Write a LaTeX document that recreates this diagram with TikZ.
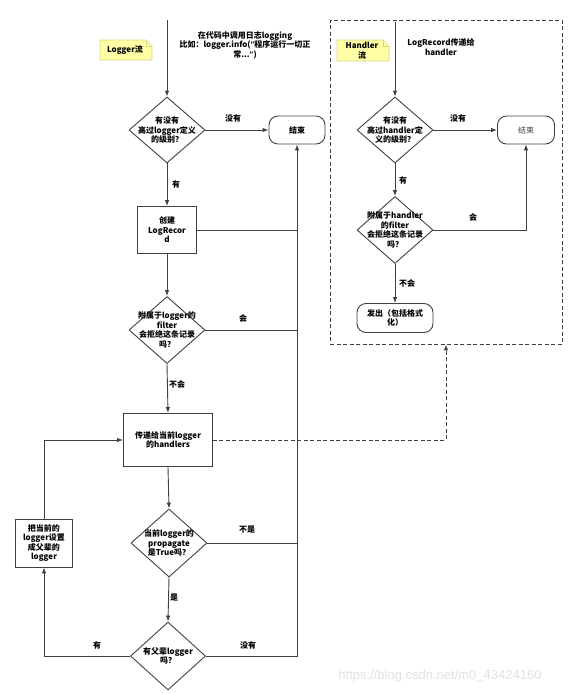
\documentclass[tikz,border=0pt]{standalone}
\usepackage{fontspec}
\setmainfont{Noto Sans CJK SC}
\newfontfamily\wmfont{Liberation Sans}
\usetikzlibrary{shapes.geometric,arrows.meta,calc}
\definecolor{ln}{HTML}{404040}
\definecolor{notefill}{HTML}{FFFFA6}
\definecolor{notedraw}{HTML}{D6D68A}
\tikzset{
  every node/.style={font=\fontsize{8}{9.5}\selectfont\bfseries, text=black},
  diam/.style={draw=ln, line width=0.9pt, diamond, inner sep=0pt},
  txt/.style={align=center, inner sep=0pt},
  term/.style={draw=ln, line width=0.9pt, rectangle, rounded corners=9pt, align=center},
  procbox/.style={draw=ln, line width=0.9pt, rectangle, align=center},
  con/.style={draw=ln, line width=0.9pt},
  arr/.style={con, -{Latex[length=6pt,width=4.5pt]}},
  lbl/.style={inner sep=0pt},
  notetxt/.style={align=center, inner sep=0pt, font=\fontsize{8}{9.5}\selectfont\bfseries}
}
\begin{document}
\begin{tikzpicture}[x=1pt,y=-1pt]
\useasboundingbox (0,0) rectangle (573,694);
% ---------- Logger flow ----------
\coordinate (top1) at (167,20);
\node[txt] (intro) at (245,45) {在代码中调用日志logging\\比如：logger.info({\wmfont\bfseries "}程序运行一切正\\常...{\wmfont\bfseries "})};
\node[diam, minimum width=76pt, minimum height=66pt] (d1) at (167,130) {};
\node[txt] (t1) at (d1) {有没有\\高过logger定义\\的级别？};
\node[term, minimum width=56pt, minimum height=28pt] (e1) at (297,130) {结束};
\node[procbox, minimum width=59pt, minimum height=47pt] (c1) at (167,230) {};
\node[txt] (tc1) at (c1) {创建\\LogRecor\\d};
\node[diam, minimum width=76pt, minimum height=67pt] (d2) at (167,330) {};
\node[txt] (t2) at (d2) {附属于logger的\\filter\\会拒绝这条记录\\吗？};
\node[procbox, minimum width=89pt, minimum height=53pt] (b2) at (168,440) {};
\node[txt] (tb2) at (b2) {传递给当前logger\\的handlers};
\node[diam, minimum width=76pt, minimum height=68pt] (d3) at (169,543) {};
\node[txt] (t3) at (d3) {当前logger的\\propagate\\是True吗？};
\node[diam, minimum width=75pt, minimum height=68pt] (d4) at (168,656) {};
\node[txt] (t4) at (d4) {有父辈logger\\吗？};
\node[procbox, minimum width=57pt, minimum height=48pt] (p1) at (44,543) {};
\node[txt] (tp1) at (p1) {把当前的\\logger设置\\成父辈的\\logger};
% note Logger
\fill[notefill] (100,40) -- (146,40) -- (152,46) -- (152,60) -- (100,60) -- cycle;
\draw[notedraw, line width=0.6pt] (100,40) -- (146,40) -- (152,46) -- (152,60) -- (100,60) -- cycle;
\draw[notedraw, line width=0.6pt] (146,40) -- (146,46) -- (152,46);
\node[notetxt] (n1) at (125,50) {Logger流};
% connectors
\draw[arr] (top1) -- (d1.north);
\draw[arr] (d1.east) -- (e1.west);
\node[lbl] (l1) at (233,118) {没有};
\draw[arr] (d1.south) -- (c1.north);
\node[lbl] (l2) at (176,184) {有};
\draw[con] (c1.east) -- (297,230);
\draw[arr] (c1.south) -- (d2.north);
\draw[con] (d2.east) -- (297,330);
\node[lbl] (l3) at (243,318) {会};
\draw[arr] (d2.south) -- (b2.north);
\node[lbl] (l4) at (177,384) {不会};
\draw[arr] (b2.south) -- (d3.north);
\draw[con] (d3.east) -- (297,543);
\node[lbl] (l5) at (247,530) {不是};
\draw[arr] (d3.south) -- (d4.north);
\node[lbl] (l6) at (174,598) {是};
\draw[arr] (d4.east) -| (e1.south);
\node[lbl] (l7) at (248,645) {没有};
\draw[arr] (d4.west) -| (p1.south);
\node[lbl] (l8) at (97,645) {有};
\draw[arr] (p1.north) |- (b2.west);
% ---------- Handler flow ----------
\node[draw=ln, line width=0.9pt, dash pattern=on 4pt off 2.5pt, minimum width=232pt, minimum height=324pt, inner sep=0pt] (hbox) at (446,182) {};
\coordinate (htop) at (395,22);
\node[txt] (hintro) at (441,47) {LogRecord传递给\\handler};
\node[diam, minimum width=76pt, minimum height=66pt] (hd1) at (395,130) {};
\node[txt] (th1) at (hd1) {有没有\\高过handler定\\义的级别？};
\node[term, minimum width=57pt, minimum height=28pt, font=\fontsize{8}{9.5}\selectfont, text=ln] (he) at (526,130) {结束};
\node[diam, minimum width=76pt, minimum height=67pt] (hd2) at (395,230) {};
\node[txt] (th2) at (hd2) {附属于handler\\的filter\\会拒绝这条记录\\吗？};
\node[term, minimum width=76pt, minimum height=29pt] (hout) at (395,318) {};
\node[txt] (tho) at (hout) {发出（包括格式\\化）};
% note Handler
\fill[notefill] (337,40) -- (383,40) -- (389,46) -- (389,61) -- (337,61) -- cycle;
\draw[notedraw, line width=0.6pt] (337,40) -- (383,40) -- (389,46) -- (389,61) -- (337,61) -- cycle;
\draw[notedraw, line width=0.6pt] (383,40) -- (383,46) -- (389,46);
\node[notetxt] (n2) at (362,50.5) {Handler\\流};
% connectors
\draw[arr] (htop) -- (hd1.north);
\draw[arr] (hd1.east) -- (he.west);
\node[lbl] (hl1) at (458,118) {没有};
\draw[arr] (hd1.south) -- (hd2.north);
\node[lbl] (hl2) at (403,180) {有};
\draw[arr] (hd2.east) -| (he.south);
\node[lbl] (hl3) at (473,217) {会};
\draw[arr] (hd2.south) -- (hout.north);
\node[lbl] (hl4) at (407,283) {不会};
% dashed link
\draw[arr, dash pattern=on 4pt off 2.5pt] (b2.east) -| (hbox.south);
% watermark
\node[inner sep=0pt, font=\wmfont\fontsize{13}{15}\selectfont, text=black!12] (wm) at (440,676) {https://blog.csdn.net/m0\_43424160};
\end{tikzpicture}
\end{document}
